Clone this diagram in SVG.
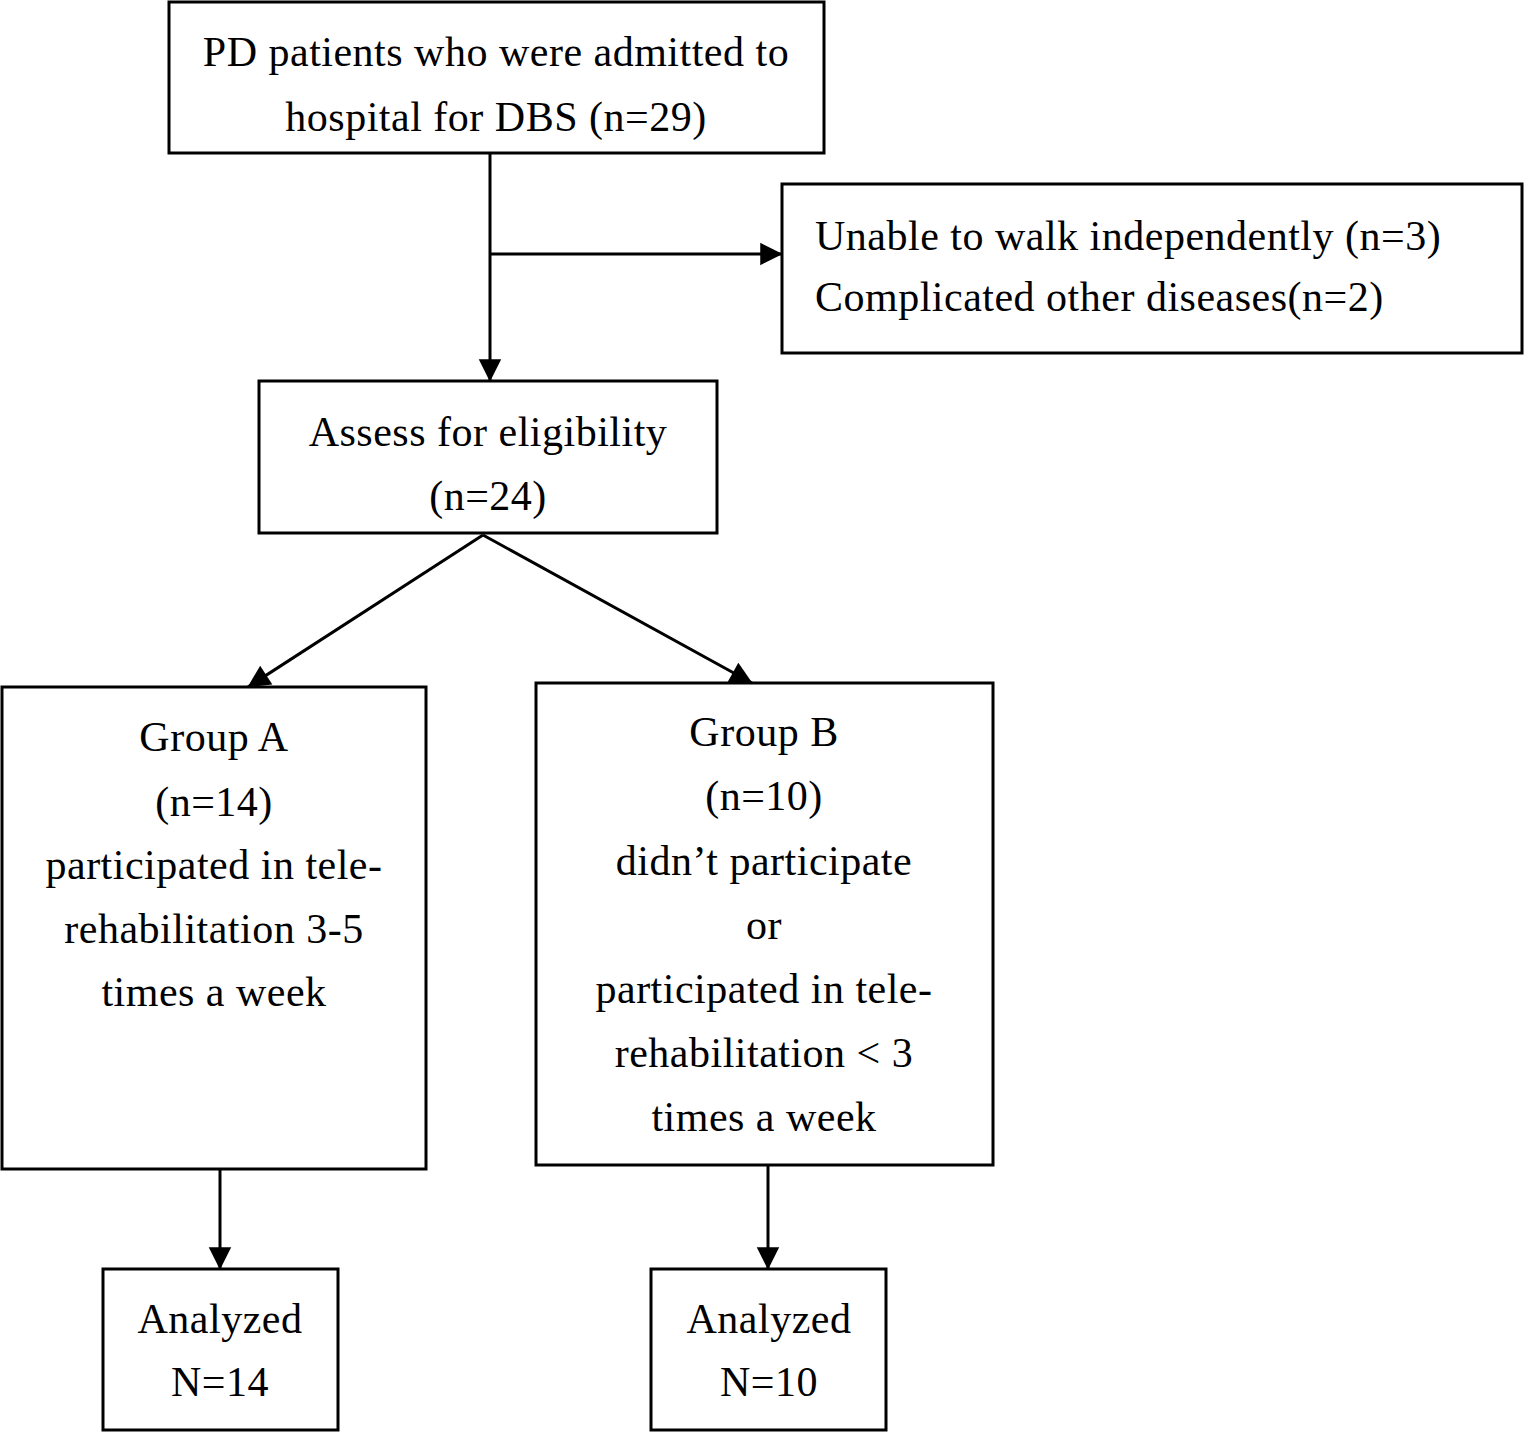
<svg xmlns="http://www.w3.org/2000/svg" width="1524" height="1434" viewBox="0 0 1524 1434">
<style>
rect{fill:#fff;stroke:#000;stroke-width:3}
text{font-family:"Liberation Serif",serif;font-size:42px;letter-spacing:0.5px;fill:#000}
.c{text-anchor:middle}
.ln{stroke:#000;stroke-width:3;fill:none}
</style>
<defs><marker id="a" viewBox="0 0 10 10" refX="9" refY="5" markerWidth="8" markerHeight="8" markerUnits="userSpaceOnUse" orient="auto" style="overflow:visible"><path d="M0,0L10,5L0,10z" transform="scale(2.8) translate(-6.5,-3.2)" fill="#000"/></marker></defs>
<rect width="1524" height="1434" style="stroke:none"/>
<g id="top"><rect x="169" y="2" width="655" height="151"/><text class="c" x="496" y="66">PD patients who were admitted to</text><text class="c" x="496" y="131">hospital for DBS (n=29)</text></g>
<g id="excl"><rect x="782" y="184" width="740" height="169"/><text x="815" y="250">Unable to walk independently (n=3)</text><text x="815" y="311">Complicated other diseases(n=2)</text></g>
<g id="assess"><rect x="259" y="381" width="458" height="152"/><text class="c" x="488" y="446">Assess for eligibility</text><text class="c" x="488" y="510">(n=24)</text></g>
<g id="groupA"><rect x="2" y="687" width="424" height="482"/><text class="c" x="214" y="751">Group A</text><text class="c" x="214" y="816">(n=14)</text><text class="c" x="214" y="879">participated in tele-</text><text class="c" x="214" y="943">rehabilitation 3-5</text><text class="c" x="214" y="1006">times a week</text></g>
<g id="groupB"><rect x="536" y="683" width="457" height="482"/><text class="c" x="764" y="746">Group B</text><text class="c" x="764" y="810">(n=10)</text><text class="c" x="764" y="875">didn’t participate</text><text class="c" x="764" y="939">or</text><text class="c" x="764" y="1003">participated in tele-</text><text class="c" x="764" y="1067">rehabilitation &lt; 3</text><text class="c" x="764" y="1131">times a week</text></g>
<g id="anA"><rect x="103" y="1269" width="235" height="161"/><text class="c" x="220" y="1333">Analyzed</text><text class="c" x="220" y="1396">N=14</text></g>
<g id="anB"><rect x="651" y="1269" width="235" height="161"/><text class="c" x="769" y="1333">Analyzed</text><text class="c" x="769" y="1396">N=10</text></g>
<g id="connectors">
<line class="ln" x1="490" y1="153" x2="490" y2="381" marker-end="url(#a)"/>
<line class="ln" x1="490" y1="254" x2="782" y2="254" marker-end="url(#a)"/>
<line class="ln" x1="483" y1="535" x2="248" y2="687" marker-end="url(#a)"/>
<line class="ln" x1="483" y1="535" x2="752" y2="683" marker-end="url(#a)"/>
<line class="ln" x1="220" y1="1169" x2="220" y2="1269" marker-end="url(#a)"/>
<line class="ln" x1="768" y1="1165" x2="768" y2="1269" marker-end="url(#a)"/>
</g>
</svg>
